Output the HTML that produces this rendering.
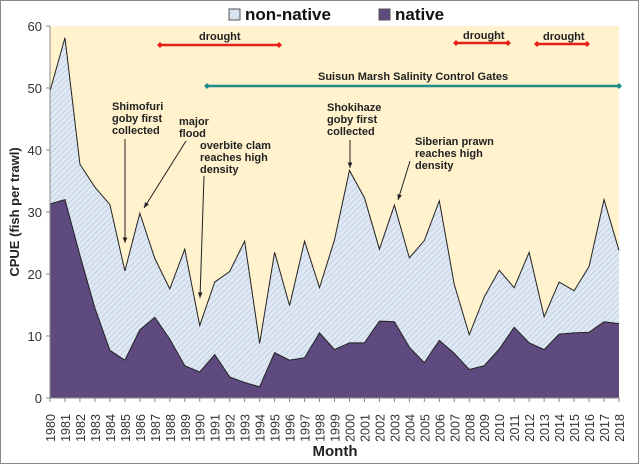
<!DOCTYPE html>
<html><head><meta charset="utf-8"><style>
body{margin:0;background:#fff;font-family:"Liberation Sans",sans-serif}
svg text{font-family:"Liberation Sans",sans-serif}
</style></head><body>
<svg id="chart" width="640" height="465" viewBox="0 0 640 465" xmlns="http://www.w3.org/2000/svg">
<defs>
<pattern id="hatch" width="4" height="4" patternUnits="userSpaceOnUse" patternTransform="rotate(45)">
<rect width="4" height="4" fill="#dfe8f3"/><line x1="0" y1="0" x2="0" y2="4" stroke="#a9bfd9" stroke-width="1"/>
</pattern>
</defs>
<rect x="0.5" y="0.5" width="638" height="463" fill="#fff" stroke="#888"/>
<rect x="50" y="26" width="569" height="372" fill="#fff2cc"/>
<g id="marks"></g>
<g id="axes"></g>
<g id="annot"></g>
</svg>
<script>
const years=[];for(let y=1980;y<=2018;y++)years.push(y);
const totalVals=[49.5,58.1,37.7,34,31.2,20.5,29.8,22.5,17.6,24,11.7,18.7,20.4,25.3,8.8,23.5,14.9,25.3,17.8,25.5,36.7,32.3,24,31.1,22.6,25.4,31.8,18.3,10.2,16.3,20.6,17.8,23.5,13.1,18.7,17.3,21.2,32,23.8];
const nativeVals=[31.3,32,23,14.5,7.7,6.1,11,13,9.5,5.2,4.2,7,3.4,2.5,1.8,7.3,6.1,6.5,10.5,7.8,8.9,8.9,12.4,12.3,8.2,5.7,9.3,7.2,4.6,5.2,7.9,11.4,8.9,7.8,10.3,10.5,10.6,12.3,12];
const yTicks=[0,10,20,30,40,50,60];
const NS="http://www.w3.org/2000/svg";
const X0=50,X1=619,Y0=398,Y1=26;
const x=yr=>X0+(yr-1980)*(X1-X0)/38;
const y=v=>Y0-v*(Y0-Y1)/60;
function mk(tag,attrs,parent,txt){const e=document.createElementNS(NS,tag);for(const k in attrs)e.setAttribute(k,attrs[k]);if(txt!==undefined)e.textContent=txt;parent.appendChild(e);return e;}
const marks=document.getElementById('marks'),axes=document.getElementById('axes'),an=document.getElementById('annot');
function areaPath(vals){let d='M'+x(years[0])+','+Y0;years.forEach((yr,i)=>d+=' L'+x(yr)+','+y(vals[i]));return d+' L'+x(years[years.length-1])+','+Y0+' Z';}
function linePath(vals){return years.map((yr,i)=>(i?'L':'M')+x(yr)+','+y(vals[i])).join(' ');}
let p=mk('path',{d:areaPath(totalVals),fill:'url(#hatch)'},marks);


p=mk('path',{d:linePath(totalVals),fill:'none',stroke:'#222','stroke-width':1},marks);


p=mk('path',{d:areaPath(nativeVals),fill:'#5e4a7e'},marks);


p=mk('path',{d:linePath(nativeVals),fill:'none',stroke:'#222','stroke-width':1},marks);


// axes
let l=mk('line',{x1:X0,y1:Y1,x2:X0,y2:Y0,stroke:'#888'},axes);


l=mk('line',{x1:X0,y1:Y0,x2:X1,y2:Y0,stroke:'#888'},axes);


yTicks.forEach(v=>{const t=mk('text',{x:X0-8,y:y(v)+5,'text-anchor':'end','font-size':13,fill:'#333'},axes,String(v));


mk('line',{x1:X0-4,y1:y(v),x2:X0,y2:y(v),stroke:'#888'},axes);});
years.forEach(yr=>{mk('line',{x1:x(yr),y1:Y0,x2:x(yr),y2:Y0+4,stroke:'#888'},axes);
const t=mk('text',{x:0,y:0,transform:`translate(${x(yr)+5},${Y0+30}) rotate(-90)`,'text-anchor':'middle','font-size':12.5,fill:'#333'},axes,String(yr));

});
let t=mk('text',{x:335,y:456,'text-anchor':'middle','font-size':15,'font-weight':'bold',fill:'#222'},axes,'Month');


t=mk('text',{x:0,y:0,transform:'translate(19,212) rotate(-90)','text-anchor':'middle','font-size':13,'font-weight':'bold',fill:'#222'},axes,'CPUE (fish per trawl)');


// legend
let r=mk('rect',{x:229,y:9,width:11,height:11,fill:'url(#hatch)',stroke:'#555'},an);


t=mk('text',{x:245,y:20,'font-size':17,'font-weight':'bold',fill:'#111'},an,'non-native');


r=mk('rect',{x:379,y:9,width:11,height:11,fill:'#5e4a7e',stroke:'#555'},an);


t=mk('text',{x:395,y:20,'font-size':17,'font-weight':'bold',fill:'#111'},an,'native');


// droughts & gates
function range(x1,x2,yy,col,name){const g=mk('g',{},an);
mk('line',{x1,y1:yy,x2,y2:yy,stroke:col,'stroke-width':2.5},g);
[x1,x2].forEach(xx=>mk('path',{d:`M${xx-3},${yy} L${xx},${yy-3} L${xx+3},${yy} L${xx},${yy+3} Z`,fill:col},g));}
range(160,279,45,'#e8201a','drought-1987-1995');
range(456,508,43,'#e8201a','drought-2007-2011');
range(537,587,44,'#e8201a','drought-2012-2016');
range(207,619,86,'#1f8c8c','salinity-gates-line');
function txt(s,xx,yy,name,size){const t=mk('text',{x:xx,y:yy,'font-size':size||11,'font-weight':'bold',fill:'#222'},an,s);}
txt('drought',199,40,'drought-label-1');
txt('drought',463,39,'drought-label-2');
txt('drought',543,40,'drought-label-3');
txt('Suisun Marsh Salinity Control Gates',318,80,'gates-label');
[['Shimofuri',112,110],['goby first',112,122],['collected',112,134],['major',179,125],['flood',179,137],['overbite clam',200,149],['reaches high',200,161],['density',200,173],['Shokihaze',327,111],['goby first',327,123],['collected',327,135],['Siberian prawn',415,145],['reaches high',415,157],['density',415,169]].forEach((a,i)=>txt(a[0],a[1],a[2],'annotation-text-'+i));
function arrow(x1,y1,x2,y2,name){const g=mk('g',{},an);
mk('line',{x1,y1,x2,y2,stroke:'#222','stroke-width':1},g);
const a=Math.atan2(y2-y1,x2-x1),s=6;
mk('path',{d:`M${x2},${y2} L${x2-s*Math.cos(a-0.4)},${y2-s*Math.sin(a-0.4)} L${x2-s*Math.cos(a+0.4)},${y2-s*Math.sin(a+0.4)} Z`,fill:'#222'},g);}
arrow(125,139,125,243,'shimofuri-arrow');
arrow(186,141,144,208,'flood-arrow');
arrow(204,176,200,298,'overbite-arrow');
arrow(350,140,350,168,'shokihaze-arrow');
arrow(410,161,398,200,'prawn-arrow');
</script>
</body></html>
